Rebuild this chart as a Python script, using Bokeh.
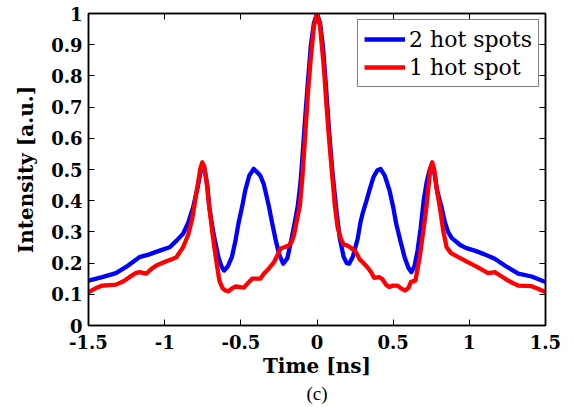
from bokeh.plotting import figure
from bokeh.models import LinearAxis, Range1d, FixedTicker, Title, Legend, LegendItem, CustomJSTickFormatter
from bokeh.embed import file_html
from bokeh.resources import INLINE

# Data
t_two = [-1.5, -1.41, -1.32, -1.24, -1.166, -1.10, -1.033, -0.967, -0.922, -0.879, -0.845, -0.813,
         -0.785, -0.765, -0.753, -0.74, -0.72, -0.707, -0.685, -0.670, -0.645, -0.625, -0.61,
         -0.585, -0.559, -0.536, -0.516, -0.49, -0.471, -0.445, -0.416, -0.39, -0.372, -0.35,
         -0.317, -0.295, -0.273, -0.25, -0.222, -0.195, -0.167, -0.146, -0.126, -0.11, -0.097,
         -0.08, -0.06, -0.04, -0.02, 0.0, 0.02, 0.04, 0.06, 0.08, 0.10, 0.124, 0.137, 0.150,
         0.175, 0.195, 0.211, 0.235, 0.267, 0.285, 0.30, 0.325, 0.344, 0.37, 0.395, 0.417,
         0.445, 0.476, 0.50, 0.52, 0.548, 0.575, 0.60, 0.619, 0.64, 0.66, 0.68, 0.70, 0.72,
         0.74, 0.754, 0.77, 0.79, 0.818, 0.84, 0.86, 0.885, 0.906, 0.94, 0.98, 1.035, 1.10,
         1.167, 1.24, 1.321, 1.409, 1.5]
i_two = [0.144, 0.155, 0.168, 0.192, 0.219, 0.228, 0.240, 0.251, 0.272, 0.294, 0.33, 0.379,
         0.44, 0.49, 0.515, 0.505, 0.45, 0.379, 0.31, 0.272, 0.215, 0.187, 0.176,
         0.19, 0.219, 0.27, 0.326, 0.385, 0.433, 0.48, 0.502, 0.49, 0.48, 0.454,
         0.385, 0.33, 0.278, 0.23, 0.198, 0.215, 0.278, 0.33, 0.385, 0.45, 0.53,
         0.65, 0.78, 0.90, 0.97, 1.0, 0.97, 0.89, 0.76, 0.62, 0.50, 0.385, 0.33, 0.278,
         0.22, 0.20, 0.198, 0.22, 0.278, 0.33, 0.36, 0.40, 0.433, 0.475, 0.497, 0.502,
         0.48, 0.433, 0.38, 0.326, 0.27, 0.219, 0.185, 0.171, 0.19, 0.24, 0.31, 0.40, 0.46,
         0.50, 0.515, 0.49, 0.43, 0.379, 0.33, 0.30, 0.28, 0.272, 0.258, 0.248, 0.240, 0.228,
         0.214, 0.19, 0.166, 0.157, 0.139]

t_one = [-1.5, -1.45, -1.409, -1.32, -1.27, -1.232, -1.19, -1.166, -1.121, -1.09, -1.055, -0.989,
         -0.955, -0.923, -0.88, -0.846, -0.82, -0.80, -0.78, -0.765, -0.753, -0.74, -0.725,
         -0.707, -0.685, -0.665, -0.641, -0.62, -0.60, -0.581, -0.56, -0.536, -0.51, -0.481,
         -0.455, -0.426, -0.40, -0.372, -0.35, -0.317, -0.282, -0.26, -0.24, -0.21, -0.185,
         -0.165, -0.152, -0.135, -0.112, -0.095, -0.079, -0.06, -0.042, -0.02, 0.0, 0.02, 0.046,
         0.06, 0.079, 0.10, 0.117, 0.135, 0.157, 0.175, 0.2, 0.22, 0.256, 0.28, 0.3, 0.331,
         0.355, 0.375, 0.41, 0.43, 0.455, 0.474, 0.50, 0.529, 0.555, 0.578, 0.60, 0.617, 0.646,
         0.674, 0.70, 0.718, 0.735, 0.745, 0.756, 0.77, 0.785, 0.806, 0.83, 0.851, 0.88, 0.928,
         0.947, 0.99, 1.035, 1.08, 1.123, 1.167, 1.21, 1.255, 1.29, 1.321, 1.409, 1.45, 1.5]
i_one = [0.107, 0.12, 0.128, 0.131, 0.142, 0.155, 0.168, 0.171, 0.166, 0.18, 0.192, 0.206,
         0.212, 0.219, 0.25, 0.29, 0.34, 0.40, 0.46, 0.505, 0.523, 0.51, 0.46,
         0.38, 0.29, 0.22, 0.144, 0.12, 0.112, 0.110, 0.118, 0.125, 0.124, 0.121,
         0.135, 0.150, 0.150, 0.150, 0.165, 0.182, 0.203, 0.225, 0.246, 0.252, 0.256,
         0.27, 0.288, 0.33, 0.385, 0.48, 0.598, 0.74, 0.85, 0.96, 1.0, 0.96, 0.82,
         0.72, 0.598, 0.48, 0.385, 0.315, 0.278, 0.26, 0.256, 0.25, 0.235, 0.212, 0.203, 0.187,
         0.171, 0.153, 0.155, 0.148, 0.13, 0.123, 0.128, 0.128, 0.118, 0.112, 0.12, 0.14, 0.144,
         0.219, 0.31, 0.379, 0.46, 0.505, 0.523, 0.50, 0.44, 0.379, 0.30, 0.251, 0.232, 0.219,
         0.214, 0.203, 0.192, 0.18, 0.168, 0.171, 0.158, 0.144, 0.135, 0.128, 0.126, 0.118, 0.107]

x_ticks = [-1.5, -1, -0.5, 0, 0.5, 1, 1.5]
y_ticks = [0, 0.1, 0.2, 0.3, 0.4, 0.5, 0.6, 0.7, 0.8, 0.9, 1]
x_labels = {-1.5: "-1.5", -1: "-1", -0.5: "-0.5", 0: "0", 0.5: "0.5", 1: "1", 1.5: "1.5"}
y_labels = {0: "0", 0.1: "0.1", 0.2: "0.2", 0.3: "0.3", 0.4: "0.4", 0.5: "0.5", 0.6: "0.6",
            0.7: "0.7", 0.8: "0.8", 0.9: "0.9", 1: "1"}
series_names = ["2 hot spots", "1 hot spot"]

FONT = "DejaVu Serif"
FONT2 = "serif"

p = figure(width=574, height=407, output_backend="svg", toolbar_location=None,
           x_range=Range1d(-1.5, 1.5), y_range=Range1d(0, 1),
           min_border_left=88, min_border_right=29, min_border_top=13, min_border_bottom=82,
           x_axis_label="Time [ns]", y_axis_label="Intensity [a.u.]")
p.grid.visible = False
p.outline_line_color = "black"
p.outline_line_width = 1.5
p.background_fill_color = "white"
p.border_fill_color = "white"

r2 = p.line(t_two, i_two, line_color="#0000ff", line_width=4.3, line_join="round")
r1 = p.line(t_one, i_one, line_color="#ff0000", line_width=4.3, line_join="round")

for ax, ticks, labels in ((p.xaxis[0], x_ticks, x_labels), (p.yaxis[0], y_ticks, y_labels)):
    ax.ticker = FixedTicker(ticks=ticks)
    ax.major_label_overrides = labels
    ax.minor_tick_line_color = None
    ax.major_tick_in = 6
    ax.major_tick_out = 0
    ax.axis_line_color = "black"
    ax.axis_line_width = 1.5
    ax.major_label_text_font = FONT
    ax.major_label_text_font_style = "bold"
    ax.major_label_text_font_size = "18px"
    ax.major_label_text_color = "black"
    ax.axis_label_text_font = FONT
    ax.axis_label_text_font_style = "bold"
    ax.axis_label_text_font_size = "20px"
    ax.axis_label_text_color = "black"

p.xaxis[0].major_label_standoff = 9
p.xaxis[0].axis_label_standoff = 2
p.yaxis[0].major_label_standoff = 6
p.yaxis[0].axis_label_standoff = 10

blank = CustomJSTickFormatter(code="return ''")
top = LinearAxis(ticker=FixedTicker(ticks=x_ticks), formatter=blank,
                 major_tick_in=6, major_tick_out=0, minor_tick_line_color=None,
                 axis_line_width=1.5, major_label_standoff=0)
right = LinearAxis(ticker=FixedTicker(ticks=y_ticks), formatter=blank,
                   major_tick_in=6, major_tick_out=0, minor_tick_line_color=None,
                   axis_line_width=1.5, major_label_standoff=0)
p.add_layout(top, "above")
p.add_layout(right, "right")

legend = Legend(items=[LegendItem(label=series_names[0], renderers=[r2]),
                       LegendItem(label=series_names[1], renderers=[r1])],
                location="top_right")
legend.label_text_font = FONT
legend.label_text_font_size = "22px"
legend.label_text_color = "black"
legend.glyph_width = 41
legend.glyph_height = 26
legend.label_height = 26
legend.spacing = 2
legend.padding = 6
legend.margin = 6
legend.label_standoff = 4
legend.border_line_color = "black"
legend.border_line_width = 1.2
legend.background_fill_alpha = 1
p.add_layout(legend)

cap = Title(text="(c)", align="center", offset=8, text_font=FONT2, text_font_size="19px",
            text_font_style="normal", text_color="black", standoff=0)
p.add_layout(cap, "below")

open("out.html", "w").write(file_html(p, INLINE))
